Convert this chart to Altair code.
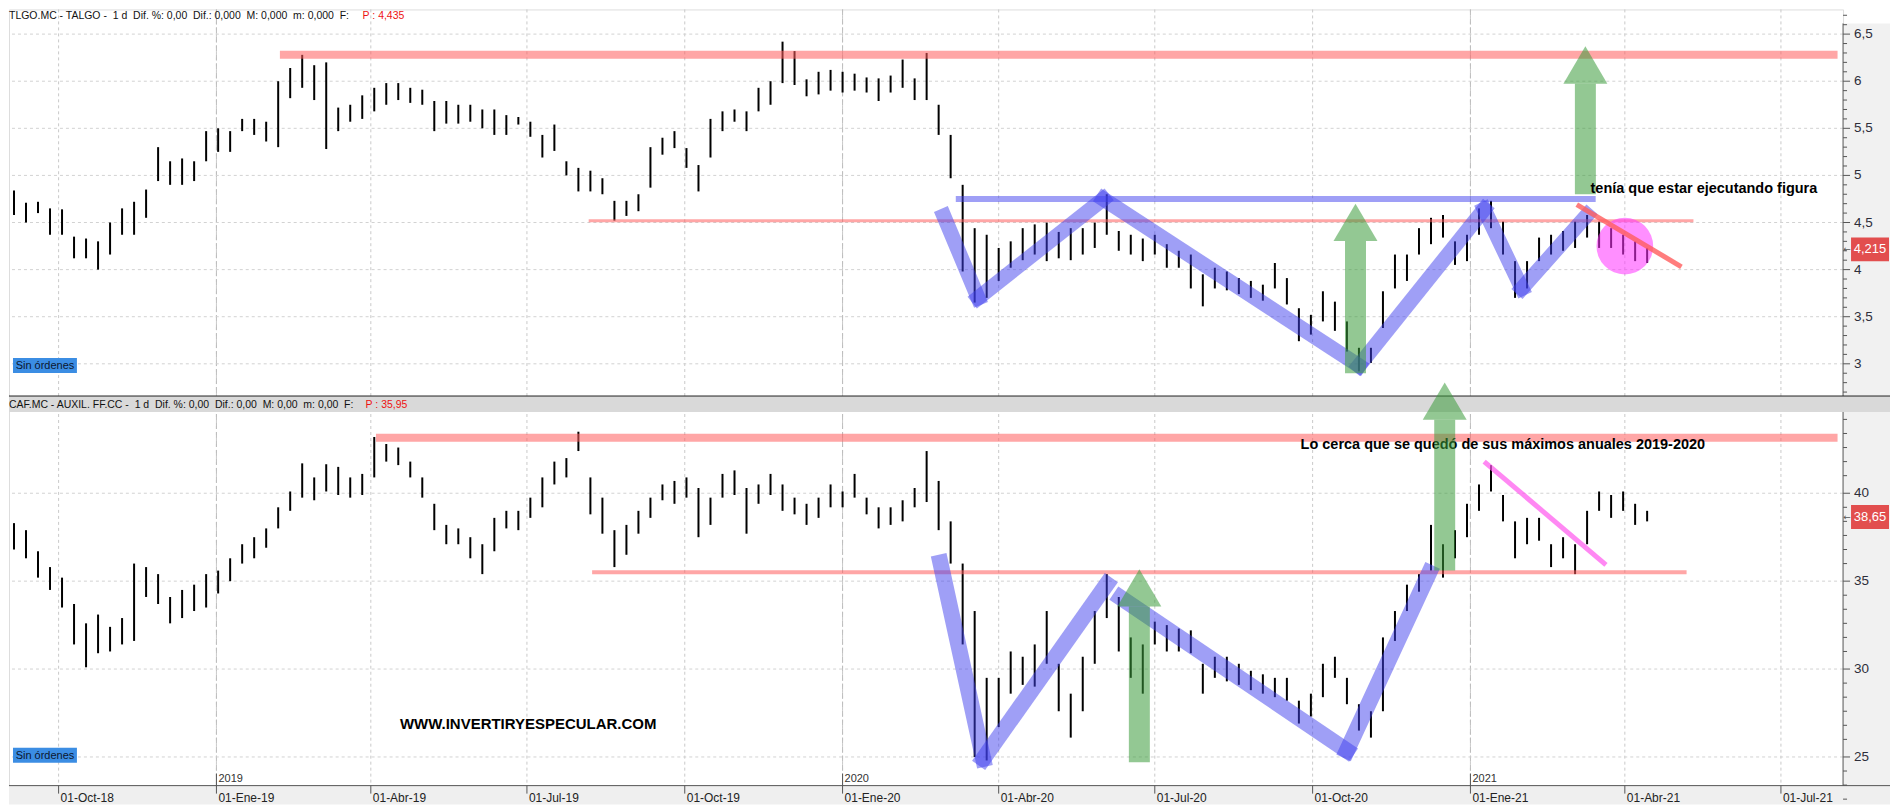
import altair as alt
import pandas as pd

# ---------------- values ----------------
# one bar per week (centred on Wednesday): weekly low / high
WEEK_START = "2018-09-05"

talgo_low = [4.58, 4.50, 4.60, 4.37, 4.37, 4.12, 4.12, 4.00, 4.16, 4.37,
             4.37, 4.55, 4.94, 4.90, 4.90, 4.94, 5.15, 5.25, 5.25, 5.47,
             5.43, 5.36, 5.30, 5.82, 5.93, 5.80, 5.28, 5.47, 5.57, 5.60,
             5.68, 5.75, 5.80, 5.77, 5.75, 5.47, 5.55, 5.55, 5.57, 5.50,
             5.43, 5.43, 5.54, 5.41, 5.19, 5.26, 5.00, 4.83, 4.83, 4.80,
             4.52, 4.57, 4.62, 4.87, 5.22, 5.29, 5.08, 4.83, 5.19, 5.47,
             5.57, 5.47, 5.68, 5.75, 5.98, 5.96, 5.84, 5.86, 5.90, 5.88,
             5.90, 5.88, 5.79, 5.88, 5.93, 5.80, 5.80, 5.43, 4.97, 3.98,
             3.65, 3.70, 3.88, 4.02, 4.10, 4.16, 4.09, 4.12, 4.10, 4.16,
             4.23, 4.37, 4.20, 4.16, 4.09, 4.16, 4.02, 4.02, 3.80, 3.61,
             3.80, 3.78, 3.74, 3.70, 3.67, 3.80, 3.63, 3.24, 3.31, 3.45,
             3.35, 3.13, 2.92, 3.01, 3.38, 3.80, 3.88, 4.16, 4.27, 4.34,
             4.05, 4.09, 4.37, 4.44, 4.16, 3.70, 3.80, 4.09, 4.16, 4.20,
             4.23, 4.34, 4.23, 4.23, 4.16, 4.09, 4.07]
talgo_high = [4.84, 4.71, 4.72, 4.65, 4.64, 4.35, 4.33, 4.30, 4.50, 4.65,
              4.72, 4.85, 5.30, 5.15, 5.18, 5.15, 5.47, 5.50, 5.47, 5.60,
              5.60, 5.57, 6.00, 6.14, 6.28, 6.17, 6.20, 5.72, 5.75, 5.85,
              5.93, 5.98, 5.98, 5.93, 5.91, 5.79, 5.79, 5.75, 5.75, 5.70,
              5.70, 5.64, 5.62, 5.57, 5.43, 5.54, 5.15, 5.08, 5.05, 4.97,
              4.73, 4.73, 4.80, 5.30, 5.40, 5.47, 5.29, 5.11, 5.60, 5.68,
              5.70, 5.68, 5.93, 6.00, 6.42, 6.32, 6.02, 6.10, 6.12, 6.10,
              6.08, 6.04, 6.03, 6.06, 6.23, 6.03, 6.30, 5.75, 5.43, 4.90,
              4.44, 4.37, 4.23, 4.30, 4.44, 4.48, 4.50, 4.40, 4.44, 4.44,
              4.50, 4.80, 4.41, 4.37, 4.33, 4.37, 4.27, 4.20, 4.16, 3.95,
              4.02, 3.98, 3.91, 3.88, 3.84, 4.07, 3.91, 3.59, 3.52, 3.77,
              3.66, 3.45, 3.17, 3.17, 3.77, 4.16, 4.16, 4.44, 4.55, 4.58,
              4.30, 4.37, 4.65, 4.73, 4.51, 4.09, 4.09, 4.34, 4.37, 4.41,
              4.51, 4.58, 4.51, 4.44, 4.37, 4.30, 4.23]

caf_low = [36.8, 36.3, 35.2, 34.5, 33.5, 31.4, 30.1, 30.9, 31.0, 31.4,
           31.6, 34.1, 33.7, 32.6, 32.9, 33.3, 33.5, 34.3, 35.0, 36.0,
           36.3, 36.9, 38.0, 39.0, 39.75, 39.6, 40.1, 39.9, 39.75, 39.9,
           40.9, 41.8, 41.6, 40.9, 39.75, 37.9, 37.1, 37.1, 36.3, 35.4,
           36.7, 38.0, 37.9, 38.6, 39.2, 40.5, 40.9, 42.4, 38.8, 37.7,
           35.8, 36.5, 37.7, 38.6, 39.6, 39.4, 39.75, 37.5, 38.2, 39.75,
           39.9, 37.7, 39.4, 39.9, 39.0, 38.8, 38.2, 38.6, 39.2, 39.2,
           39.75, 38.8, 38.0, 38.2, 38.4, 39.2, 39.5, 37.9, 36.0, 31.4,
           25.0, 24.8, 26.7, 28.6, 29.1, 29.0, 30.3, 27.6, 26.1, 27.6,
           30.3, 32.9, 31.0, 29.5, 28.6, 31.4, 31.0, 31.0, 30.9, 28.6,
           29.5, 29.3, 29.1, 28.8, 28.6, 28.4, 28.2, 26.9, 27.3, 28.4,
           29.5, 28.0, 26.5, 26.1, 27.6, 31.6, 33.3, 34.4, 35.6, 35.2,
           36.3, 37.5, 39.0, 40.1, 38.4, 36.3, 37.1, 37.3, 35.8, 36.3,
           35.4, 37.1, 39.0, 38.6, 39.0, 38.2, 38.4]
caf_high = [38.3, 37.9, 36.7, 35.8, 35.2, 33.7, 32.6, 33.1, 32.4, 32.9,
            36.0, 35.8, 35.4, 34.1, 34.5, 34.8, 35.4, 35.6, 36.3, 37.1,
            37.5, 38.0, 39.2, 40.1, 41.7, 40.9, 41.65, 41.5, 40.9, 41.1,
            43.2, 42.8, 42.6, 41.8, 40.9, 39.4, 38.2, 38.0, 37.5, 37.1,
            38.6, 39.0, 39.0, 39.75, 40.9, 41.8, 42.0, 43.5, 40.9, 39.75,
            37.9, 38.2, 39.0, 39.75, 40.5, 40.7, 40.9, 40.3, 39.75, 41.1,
            41.3, 40.3, 40.5, 41.1, 40.5, 39.75, 39.4, 39.75, 40.5, 40.1,
            41.1, 39.75, 39.2, 39.2, 39.6, 40.3, 42.4, 40.7, 38.4, 36.0,
            33.3, 29.5, 29.5, 31.0, 30.7, 31.4, 33.3, 30.3, 28.6, 30.7,
            33.3, 35.4, 34.1, 31.8, 31.4, 32.7, 32.5, 32.3, 32.2, 30.3,
            30.7, 30.7, 30.3, 29.9, 29.7, 29.5, 29.5, 28.2, 28.6, 30.3,
            30.7, 29.5, 28.0, 27.6, 31.8, 33.3, 34.8, 35.4, 38.2, 37.1,
            37.9, 39.4, 40.5, 41.6, 39.9, 38.4, 38.6, 38.6, 37.1, 37.5,
            37.1, 39.0, 40.1, 39.9, 40.1, 39.4, 39.0]

# axis ticks and labels
quarter_dates = ["2018-10-01", "2019-01-01", "2019-04-01", "2019-07-01", "2019-10-01", "2020-01-01",
                 "2020-04-01", "2020-07-01", "2020-10-01", "2021-01-01", "2021-04-01", "2021-07-01"]
quarter_labels = ["01-Oct-18", "01-Ene-19", "01-Abr-19", "01-Jul-19", "01-Oct-19", "01-Ene-20",
                  "01-Abr-20", "01-Jul-20", "01-Oct-20", "01-Ene-21", "01-Abr-21", "01-Jul-21"]
year_starts = ["2019-01-01", "2020-01-01", "2021-01-01"]
year_labels = ["2019", "2020", "2021"]
talgo_major = [3, 3.5, 4, 4.5, 5, 5.5, 6, 6.5]
talgo_major_labels = ["3", "3,5", "4", "4,5", "5", "5,5", "6", "6,5"]
talgo_minor = [i / 10 for i in range(27, 68) if i % 5 != 0]
caf_major = [25, 30, 35, 40]
caf_major_labels = ["25", "30", "35", "40"]
caf_minor = [round(m - 0.8 * j, 1) for m in [25, 30, 35, 40, 45] for j in range(1, 6)]

# annotations (date, price)
top_bands = {"x": ["2019-02-07", "2019-08-06"], "x2": ["2021-08-03", "2021-05-11"],
             "y": [6.28, 4.52]}
top_blue_h = {"x": ["2020-03-07"], "x2": ["2021-03-15"], "y": [4.75]}
top_w_dates = ["2020-02-29", "2020-03-20", "2020-06-01", "2020-10-28",
               "2021-01-09", "2021-01-31", "2021-03-10"]
top_w_prices = [4.57, 3.70, 4.75, 2.98, 4.64, 3.80, 4.58]
top_arrow_dates = ["2020-10-26", "2021-03-09"]
top_arrow_base = [2.90, 4.80]
top_arrow_tip = [4.70, 6.37]
top_diag_dates = ["2021-03-04", "2021-05-04"]
top_diag_prices = [4.69, 4.03]
top_circle = {"d": ["2021-04-01"], "p": [4.25]}
top_note = {"d": ["2021-03-12"], "p": [4.81], "t": ["tenía que estar ejecutando figura"]}

bot_bands = {"x": ["2019-04-04", "2019-08-08"], "x2": ["2021-08-03", "2021-05-07"],
             "y": [43.16, 35.51]}
bot_w1_dates = ["2020-02-27", "2020-03-23", "2020-06-03"]
bot_w1_prices = [36.06, 24.89, 34.83]
bot_w2_dates = ["2020-06-11", "2020-10-21", "2020-12-08"]
bot_w2_prices = [34.07, 25.36, 35.49]
bot_arrow_dates = ["2020-06-22", "2020-12-17"]
bot_arrow_base = [24.7, 35.6]
bot_arrow_tip = [35.68, 46.3]
bot_diag_dates = ["2021-01-09", "2021-03-21"]
bot_diag_prices = [41.8, 35.93]
bot_note = {"d": ["2020-09-24"], "p": [42.52],
            "t": ["Lo cerca que se quedó de sus máximos anuales 2019-2020"]}
web_note = {"d": ["2019-04-18"], "p": [26.61], "t": ["WWW.INVERTIRYESPECULAR.COM"]}

top_header = "TLGO.MC - TALGO -\u00a0 1 d\u00a0 Dif. %: 0,00\u00a0 Dif.: 0,000\u00a0 M: 0,000\u00a0 m: 0,000\u00a0 F:"
top_header_p = "P : 4,435"
bot_header = "CAF.MC - AUXIL. FF.CC -\u00a0 1 d\u00a0 Dif. %: 0,00\u00a0 Dif.: 0,00\u00a0 M: 0,00\u00a0 m: 0,00\u00a0 F:"
bot_header_p = "P : 35,95"
top_last = 4.215
top_last_label = "4,215"
bot_last = 38.65
bot_last_label = "38,65"

# ---------------- layout / style ----------------
W, H_TOP, H_BOT = 1836, 387, 390
TOP_DOM = [2.658, 6.762]
BOT_DOM = [23.37, 45.53]
XS = alt.Scale(domain=[alt.DateTime(year=2018, month=9, date=2, hours=2),
                       alt.DateTime(year=2021, month=8, date=6, hours=5)])
RIGHT = 47
FONT = "Liberation Sans"
AX = "#555555"
GREEN, G_OP = "#3a9a3a", 0.55
BLUE, B_OP = "#4040ee", 0.5
PINK, P_OP = "#ff5c5c", 0.55
HEAD_W = 44
HEAD_H = 1.7 * HEAD_W / 2
TRI = "M0,0L1,1.7L-1,1.7Z"
BOX = "M-1,-0.63L1,-0.63L1,0.63L-1,0.63Z"

one = pd.DataFrame({"a": [0]})


def ex(f):
    return alt.X(f, type="temporal", scale=XS, axis=None)


def ey(f, dom):
    return alt.Y(f, type="quantitative", scale=alt.Scale(domain=dom, nice=False, zero=False), axis=None)


def todt(lst):
    return pd.to_datetime(pd.Series(lst))


def hbands(spec, dom, widths, color, op):
    out = []
    for i in range(len(spec["y"])):
        df = pd.DataFrame({"x": todt([spec["x"][i]]), "x2": todt([spec["x2"][i]]), "y": [spec["y"][i]]})
        out.append(alt.Chart(df).mark_rule(strokeWidth=widths[i], color=color, opacity=op, strokeCap="butt")
                   .encode(x=ex("x"), x2=alt.X2("x2"), y=ey("y", dom)))
    return out


def zigzag(dates, prices, dom, sw, seg0=0):
    rows = []
    for i in range(len(dates) - 1):
        rows.append({"seg": seg0 + i, "o": 0, "d": dates[i], "p": prices[i]})
        rows.append({"seg": seg0 + i, "o": 1, "d": dates[i + 1], "p": prices[i + 1]})
    df = pd.DataFrame(rows)
    df["d"] = pd.to_datetime(df["d"])
    return alt.Chart(df).mark_line(strokeWidth=sw, color=BLUE, opacity=B_OP, strokeCap="square").encode(
        x=ex("d"), y=ey("p", dom), detail="seg:N", order="o:Q")


def arrows(dates, base, tip, dom, H):
    ppu = H / (dom[1] - dom[0])
    df = pd.DataFrame({"d": todt(dates), "b": base, "t": tip})
    df["n"] = df["t"] - HEAD_H / ppu
    shaft = alt.Chart(df).mark_rule(strokeWidth=21, color=GREEN, opacity=G_OP, strokeCap="butt").encode(
        x=ex("d"), y=ey("b", dom), y2=alt.Y2("n"))
    head = alt.Chart(df).mark_point(shape=TRI, size=HEAD_W ** 2, filled=True, color=GREEN,
                                    opacity=G_OP, strokeWidth=0).encode(x=ex("d"), y=ey("t", dom))
    return [shaft, head]


def diag(dates, prices, dom, color, op):
    df = pd.DataFrame({"d": todt(dates), "p": prices})
    return alt.Chart(df).mark_line(strokeWidth=5, color=color, opacity=op).encode(x=ex("d"), y=ey("p", dom))


def note(spec, dom, size):
    df = pd.DataFrame({"d": todt(spec["d"]), "p": spec["p"], "t": spec["t"]})
    return alt.Chart(df).mark_text(align="left", baseline="alphabetic", fontSize=size, fontWeight="bold",
                                   font=FONT, color="black").encode(x=ex("d"), y=ey("p", dom), text="t:N")


def bars(low, high, dom):
    df = pd.DataFrame({"date": pd.date_range(WEEK_START, periods=len(low), freq="7D"),
                       "low": low, "high": high})
    return alt.Chart(df).mark_rule(color="black", strokeWidth=2).encode(
        x=ex("date"), y=ey("low", dom), y2=alt.Y2("high"))


def common_back(dom, H, major, ytop):
    qdf = pd.DataFrame({"d": todt(quarter_dates)})
    ydf = pd.DataFrame({"d": todt(year_starts)})
    return [
        alt.Chart(one).mark_rect(color="#f1f1f1").encode(
            x=alt.value(W), x2=alt.value(W + RIGHT), y=alt.value(ytop), y2=alt.value(H)),
        alt.Chart(qdf).mark_rule(color="#c9c9c9", strokeDash=[3, 3], strokeWidth=1).encode(x=ex("d")),
        alt.Chart(ydf).mark_rule(color="#bdbdbd", strokeDash=[6, 3], strokeWidth=1).encode(x=ex("d")),
        alt.Chart(pd.DataFrame({"v": major})).mark_rule(color="#d2d2d2", strokeDash=[3, 3], strokeWidth=1).encode(
            y=ey("v", dom)),
    ]


def common_front(dom, H, major, major_labels, minor, ytop, header, header_p, header_y, p_x,
                 last, last_label, sin_y):
    mdf = pd.DataFrame({"v": minor})
    jdf = pd.DataFrame({"v": major, "t": major_labels})
    ldf = pd.DataFrame({"p": [last], "t": [last_label]})
    return [
        alt.Chart(one).mark_text(text=header, align="left", baseline="alphabetic", fontSize=10.5, font=FONT,
                                 color="#111111").encode(x=alt.value(0), y=alt.value(header_y)),
        alt.Chart(one).mark_text(text=header_p, align="left", baseline="alphabetic", fontSize=10.5, font=FONT,
                                 color="#ee1111").encode(x=alt.value(p_x), y=alt.value(header_y)),
        alt.Chart(one).mark_rect(color="#3b8de3").encode(
            x=alt.value(4), x2=alt.value(68), y=alt.value(sin_y), y2=alt.value(sin_y + 15)),
        alt.Chart(one).mark_text(text="Sin órdenes", align="center", baseline="middle", fontSize=11, font=FONT,
                                 color="#0b1730").encode(x=alt.value(36), y=alt.value(sin_y + 8)),
        # right price axis (drawn by hand)
        alt.Chart(one).mark_rule(color=AX, strokeWidth=1).encode(
            x=alt.value(W), y=alt.value(ytop), y2=alt.value(H)),
        alt.Chart(mdf).mark_rule(color=AX, strokeWidth=1).encode(
            x=alt.value(W), x2=alt.value(W + 4), y=ey("v", dom)),
        alt.Chart(jdf).mark_rule(color=AX, strokeWidth=1).encode(
            x=alt.value(W), x2=alt.value(W + 7), y=ey("v", dom)),
        alt.Chart(jdf).mark_text(align="left", baseline="middle", fontSize=13.5, font=FONT,
                                 color="#2e2e3a").encode(x=alt.value(W + 11), y=ey("v", dom), text="t:N"),
        alt.Chart(ldf).mark_point(shape=BOX, size=38 ** 2, filled=True, color="#e24e4e", opacity=1,
                                  strokeWidth=0).encode(x=alt.value(W + 27), y=ey("p", dom)),
        alt.Chart(ldf).mark_text(fontSize=13, font=FONT, color="white", align="center", baseline="middle").encode(
            x=alt.value(W + 27), y=ey("p", dom), text="t:N"),
        alt.Chart(ldf).mark_text(text="←", fontSize=9, font="DejaVu Sans", color=AX, align="center",
                                 baseline="middle").encode(x=alt.value(W + 4), y=ey("p", dom)),
    ]


# ---------------- top panel (TALGO) ----------------
circle_df = pd.DataFrame({"d": todt(top_circle["d"]), "p": top_circle["p"]})
top_layers = (common_back(TOP_DOM, H_TOP, talgo_major, 14) + [bars(talgo_low, talgo_high, TOP_DOM)]
              + hbands(top_bands, TOP_DOM, [8, 3], PINK, P_OP)
              + hbands(top_blue_h, TOP_DOM, [6], BLUE, B_OP)
              + [zigzag(top_w_dates, top_w_prices, TOP_DOM, 15)]
              + arrows(top_arrow_dates, top_arrow_base, top_arrow_tip, TOP_DOM, H_TOP)
              + [alt.Chart(circle_df).mark_point(shape="circle", size=3217, filled=True, color="#ff33ff",
                                                 opacity=0.55, strokeWidth=0).encode(x=ex("d"), y=ey("p", TOP_DOM)),
                 diag(top_diag_dates, top_diag_prices, TOP_DOM, PINK, 0.8),
                 note(top_note, TOP_DOM, 14.5)]
              + common_front(TOP_DOM, H_TOP, talgo_major, talgo_major_labels, talgo_minor, 14,
                             top_header, top_header_p, 10, 354, top_last, top_last_label, 349))
top = alt.layer(*top_layers).properties(width=W, height=H_TOP)

# ---------------- bottom panel (CAF) ----------------
qdf = pd.DataFrame({"d": todt(quarter_dates), "t": quarter_labels})
ydf = pd.DataFrame({"d": todt(year_starts), "t": year_labels})
bot_layers = ([alt.Chart(one).mark_rect(color="#efefef").encode(
    x=alt.value(0), x2=alt.value(W + RIGHT), y=alt.value(H_BOT), y2=alt.value(H_BOT + 19))]
    + common_back(BOT_DOM, H_BOT, caf_major, 16) + [bars(caf_low, caf_high, BOT_DOM)]
    + hbands(bot_bands, BOT_DOM, [8, 4], PINK, P_OP)
    + [zigzag(bot_w1_dates, bot_w1_prices, BOT_DOM, 16),
       zigzag(bot_w2_dates, bot_w2_prices, BOT_DOM, 16, seg0=10),
       diag(bot_diag_dates, bot_diag_prices, BOT_DOM, "#ff55ee", 0.7),
       note(bot_note, BOT_DOM, 14.5),
       note(web_note, BOT_DOM, 15),
       alt.Chart(one).mark_rect(color="#d9d9d9").encode(
           x=alt.value(0), x2=alt.value(W + RIGHT), y=alt.value(0), y2=alt.value(16)),
       alt.Chart(one).mark_rule(color="#222222", strokeWidth=1).encode(
           x=alt.value(0), x2=alt.value(W + RIGHT), y=alt.value(0)),
       # date axis (drawn by hand)
       alt.Chart(one).mark_rule(color=AX, strokeWidth=1).encode(
           x=alt.value(0), x2=alt.value(W + RIGHT), y=alt.value(H_BOT)),
       alt.Chart(qdf).mark_rule(color=AX, strokeWidth=1).encode(
           x=ex("d"), y=alt.value(H_BOT), y2=alt.value(H_BOT + 8)),
       alt.Chart(qdf).mark_text(align="left", baseline="alphabetic", dx=2, fontSize=12, font=FONT,
                                color="#222222").encode(x=ex("d"), y=alt.value(H_BOT + 16), text="t:N"),
       alt.Chart(ydf).mark_rule(color=AX, strokeWidth=1).encode(
           x=ex("d"), y=alt.value(H_BOT - 12), y2=alt.value(H_BOT)),
       alt.Chart(ydf).mark_text(align="left", baseline="alphabetic", dx=2, fontSize=11, font=FONT,
                                color="#333333").encode(x=ex("d"), y=alt.value(H_BOT - 4), text="t:N")]
    + arrows(bot_arrow_dates, bot_arrow_base, bot_arrow_tip, BOT_DOM, H_BOT)
    + common_front(BOT_DOM, H_BOT, caf_major, caf_major_labels, caf_minor, 16,
                   bot_header, bot_header_p, 12, 357, bot_last, bot_last_label, 352))
bottom = alt.layer(*bot_layers).properties(width=W, height=H_BOT)

chart = alt.vconcat(top, bottom, spacing=0, bounds="flush").properties(
    padding={"left": 0, "top": 0, "right": 0, "bottom": 0}
).configure_view(strokeWidth=0).configure(background="white")

chart.save("out.html", embed_options={"renderer": "svg", "actions": False})
